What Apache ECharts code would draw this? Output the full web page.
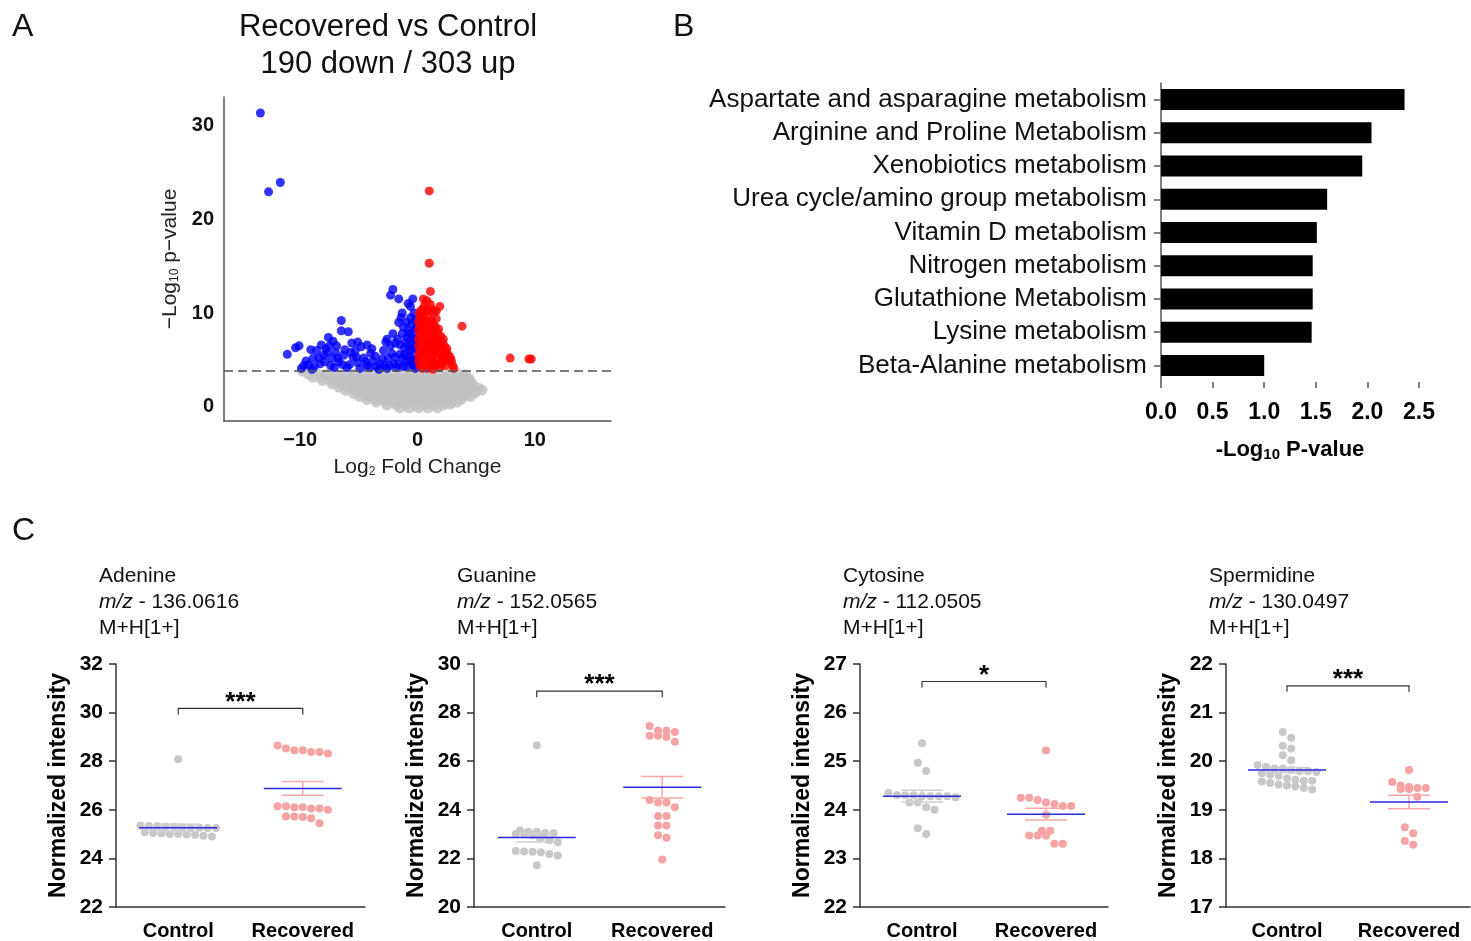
<!DOCTYPE html>
<html>
<head>
<meta charset="utf-8">
<title>Recovered vs Control</title>
<script src="https://cdn.jsdelivr.net/npm/echarts@6/dist/echarts.min.js"></script>
<style>
  html, body { margin: 0; padding: 0; background: #fff; }
  #main { width: 1471px; height: 941px; }
</style>
</head>
<body>
<div id="main"></div>
<script>
// ---- panel A : volcano ----
const volcanoGray = [
  [-9.8, 3.8], [-9.3, 3.5], [-8.5, 3.5], [-7.7, 3.5], [-6.9, 3.5], [-6.1, 3.5], [-5.3, 3.5], [-4.5, 3.5], [-3.7, 3.5],
  [-2.9, 3.5], [-2.1, 3.5], [-1.3, 3.5], [-0.5, 3.5], [0.3, 3.5], [1.1, 3.5], [1.9, 3.5], [2.7, 3.5], [3.5, 3.5], [4.1, 3.4],
  [-8.9, 3.15], [-8.1, 3.15], [-7.3, 3.15], [-6.5, 3.15], [-5.7, 3.15], [-4.9, 3.15], [-4.1, 3.15], [-3.3, 3.15], [-2.5, 3.15],
  [-1.7, 3.15], [-0.9, 3.15], [-0.1, 3.15], [0.7, 3.15], [1.5, 3.15], [2.3, 3.15], [3.1, 3.15], [3.9, 3.15], [4.4, 3.0],
  [-8.1, 2.8], [-7.3, 2.8], [-6.5, 2.8], [-5.7, 2.8], [-4.9, 2.8], [-4.1, 2.8], [-3.3, 2.8], [-2.5, 2.8], [-1.7, 2.8],
  [-0.9, 2.8], [-0.1, 2.8], [0.7, 2.8], [1.5, 2.8], [2.3, 2.8], [3.1, 2.8], [3.9, 2.8], [4.5, 2.7],
  [-7.3, 2.45], [-6.5, 2.45], [-5.7, 2.45], [-4.9, 2.45], [-4.1, 2.45], [-3.3, 2.45], [-2.5, 2.45], [-1.7, 2.45], [-0.9, 2.45],
  [-0.1, 2.45], [0.7, 2.45], [1.5, 2.45], [2.3, 2.45], [3.1, 2.45], [3.9, 2.45], [4.7, 2.4],
  [-6.7, 2.1], [-5.9, 2.1], [-5.1, 2.1], [-4.3, 2.1], [-3.5, 2.1], [-2.7, 2.1], [-1.9, 2.1], [-1.1, 2.1], [-0.3, 2.1],
  [0.5, 2.1], [1.3, 2.1], [2.1, 2.1], [2.9, 2.1], [3.7, 2.1], [4.5, 2.1], [5.2, 2.0], [5.5, 1.8],
  [-6.1, 1.75], [-5.3, 1.75], [-4.5, 1.75], [-3.7, 1.75], [-2.9, 1.75], [-2.1, 1.75], [-1.3, 1.75], [-0.5, 1.75], [0.3, 1.75],
  [1.1, 1.75], [1.9, 1.75], [2.7, 1.75], [3.5, 1.75], [4.3, 1.75], [5.0, 1.7],
  [-5.4, 1.4], [-4.6, 1.4], [-3.8, 1.4], [-3.0, 1.4], [-2.2, 1.4], [-1.4, 1.4], [-0.6, 1.4], [0.2, 1.4], [1.0, 1.4],
  [1.8, 1.4], [2.6, 1.4], [3.4, 1.4], [4.2, 1.4], [4.9, 1.5],
  [-4.9, 1.1], [-4.1, 1.1], [-3.3, 1.1], [-2.5, 1.1], [-1.7, 1.1], [-0.9, 1.1], [-0.1, 1.1], [0.7, 1.1], [1.5, 1.1],
  [2.3, 1.1], [3.1, 1.1], [3.9, 1.1], [4.5, 1.1],
  [-4.3, 0.8], [-3.5, 0.8], [-2.7, 0.8], [-1.9, 0.8], [-1.1, 0.8], [-0.3, 0.8], [0.5, 0.8], [1.3, 0.8], [2.1, 0.8],
  [2.9, 0.8], [3.7, 0.8],
  [-3.5, 0.5], [-2.7, 0.5], [-1.9, 0.5], [-1.1, 0.5], [-0.3, 0.5], [0.5, 0.5], [1.3, 0.5], [2.1, 0.5], [2.9, 0.5], [3.4, 0.5],
  [-2.6, 0.2], [-1.8, 0.2], [-1.0, 0.2], [-0.2, 0.2], [0.6, 0.2], [1.4, 0.2], [2.2, 0.2], [2.8, 0.3],
  [-1.5, -0.1], [-0.7, -0.1], [0.1, -0.1], [0.9, -0.1], [1.7, -0.1]
];
const volcanoDown = [
  [-13.4, 31.3], [-12.7, 22.9], [-11.7, 23.9],
  [-11.1, 5.6], [-10.4, 6.3], [-10.1, 6.5], [-9.9, 4.1], [-9.7, 4.4], [-9.5, 4.9], [-9.3, 4.5], [-9.1, 6.1],
  [-9.0, 4.0], [-8.9, 5.2], [-8.8, 4.3], [-8.6, 6.0], [-8.4, 5.2], [-8.3, 4.6], [-8.2, 6.6], [-8.0, 5.5],
  [-7.9, 4.8], [-7.8, 6.2], [-7.7, 5.8], [-7.6, 7.4], [-7.5, 6.5], [-7.4, 4.4], [-7.3, 5.2], [-7.2, 7.0],
  [-7.1, 4.2], [-7.0, 5.8], [-6.9, 6.5], [-6.8, 5.2], [-6.7, 4.8], [-6.5, 9.2], [-6.5, 8.1], [-6.4, 4.5],
  [-6.3, 5.5], [-6.2, 6.1], [-6.0, 4.2], [-5.9, 8.0], [-5.8, 4.5], [-5.7, 5.8], [-5.6, 6.8], [-5.5, 5.3],
  [-5.3, 6.0], [-5.2, 5.3], [-5.1, 4.7], [-5.1, 6.9], [-4.9, 4.1], [-4.8, 6.4], [-4.6, 5.2], [-4.4, 4.8],
  [-4.3, 4.4], [-4.3, 6.6], [-4.1, 4.2], [-4.0, 5.7], [-3.9, 6.2], [-3.8, 4.9], [-3.6, 5.4], [-3.5, 4.3],
  [-3.3, 4.0], [-3.2, 4.6], [-3.0, 5.1], [-2.9, 6.0], [-2.8, 4.4], [-2.7, 6.9], [-2.6, 4.1], [-2.6, 7.2],
  [-2.5, 5.2], [-2.4, 4.4], [-2.3, 6.5], [-2.2, 5.7], [-2.1, 7.8], [-2.0, 4.6], [-1.9, 5.3], [-1.9, 6.8],
  [-2.1, 12.5], [-2.3, 11.9], [-1.6, 11.5], [-1.6, 9.0], [-1.4, 9.5], [-1.3, 10.0], [-1.7, 7.2], [-1.6, 4.5],
  [-1.5, 5.6], [-1.5, 6.6], [-1.8, 4.2], [-1.3, 5.2], [-1.3, 7.8], [-1.2, 8.5], [-1.2, 4.3], [-1.1, 6.3],
  [-1.1, 5.6], [-1.0, 4.8], [-1.0, 6.9], [-0.9, 7.4], [-0.9, 4.3], [-0.9, 9.0], [-0.8, 11.0], [-0.8, 5.4],
  [-0.8, 6.5], [-0.8, 8.1], [-0.7, 6.0], [-0.7, 7.8], [-0.6, 10.7], [-0.6, 5.0], [-0.6, 9.5], [-0.5, 8.8],
  [-0.5, 4.6], [-0.5, 6.2], [-0.4, 11.5], [-0.4, 6.8], [-0.4, 7.3], [-0.4, 5.0], [-0.3, 10.0], [-0.3, 8.0],
  [-0.3, 4.4], [-0.2, 5.5], [-0.2, 7.2], [-0.2, 9.2], [-0.2, 6.3], [-0.2, 4.1], [-0.1, 8.4], [-0.1, 4.8],
  [-0.1, 6.8]
];
const volcanoUp = [
  [1.0, 23.0], [1.0, 15.3], [1.1, 12.3], [3.8, 8.6], [7.9, 5.2], [9.5, 5.1], [9.7, 5.1],
  [0.5, 11.5], [0.8, 11.3], [0.3, 10.3], [0.6, 10.8], [1.1, 10.9], [1.4, 10.1], [1.9, 10.7], [0.15, 10.0],
  [1.2, 10.4], [0.5, 10.4], [1.6, 10.2], [0.8, 10.2],
  [0.2, 9.5], [0.5, 9.8], [0.9, 9.7], [1.2, 9.2], [1.6, 9.4], [0.4, 9.2], [0.8, 9.1], [0.1, 9.0],
  [0.3, 8.7], [0.7, 8.8], [1.0, 8.5], [1.5, 8.6], [1.3, 8.8], [1.8, 8.3], [0.1, 8.2], [0.4, 8.2], [0.8, 8.1],
  [1.3, 8.0], [1.7, 7.9], [0.2, 7.8], [0.6, 7.9], [1.1, 7.6], [1.4, 7.8], [2.0, 7.5], [0.4, 7.4], [0.8, 7.3],
  [1.3, 7.2], [1.7, 7.2], [2.2, 7.2], [0.1, 7.2], [0.3, 6.9], [0.7, 7.0], [1.0, 6.8], [1.5, 6.9], [2.1, 6.8],
  [1.8, 6.6], [2.3, 6.5], [0.1, 6.5], [0.4, 6.4], [0.8, 6.5], [1.3, 6.4], [1.7, 6.3], [2.1, 6.3], [2.5, 6.2],
  [0.2, 6.0], [0.6, 6.1], [1.1, 5.9], [1.4, 6.0], [2.0, 5.8], [2.4, 5.9], [0.4, 5.7], [0.8, 5.8], [1.7, 5.7],
  [2.6, 5.6], [0.1, 5.5], [1.3, 5.5], [2.4, 5.4], [0.3, 5.2], [0.8, 5.3], [1.2, 5.1], [1.7, 5.2], [2.1, 5.3],
  [2.8, 5.3], [2.2, 5.0], [2.7, 4.9], [2.9, 4.9], [0.1, 4.9], [0.8, 4.9], [1.3, 4.7], [1.7, 4.6], [2.1, 4.6],
  [0.2, 4.4], [0.6, 4.5], [1.0, 4.3], [1.5, 4.4], [1.9, 4.2], [2.4, 4.4], [3.0, 4.4], [3.1, 4.1], [0.4, 4.1],
  [0.8, 4.1], [1.3, 4.0]
];
const pThreshold = 3.9;
const volcanoXTicks = [-10, 0, 10];
const volcanoYTicks = [0, 10, 20, 30];

// ---- panel B : pathways ----
const pathways = [
  'Aspartate and asparagine metabolism',
  'Arginine and Proline Metabolism',
  'Xenobiotics metabolism',
  'Urea cycle/amino group metabolism',
  'Vitamin D metabolism',
  'Nitrogen metabolism',
  'Glutathione Metabolism',
  'Lysine metabolism',
  'Beta-Alanine metabolism'
];
const pathwayLogP = [2.36, 2.04, 1.95, 1.61, 1.51, 1.47, 1.47, 1.46, 1.0];

// ---- panel C : metabolites ----
const groups = ['Control', 'Recovered'];
const compounds = ['Adenine', 'Guanine', 'Cytosine', 'Spermidine'];
const mzValues = ['136.0616', '152.0565', '112.0505', '130.0497'];
const adduct = 'M+H[1+]';
const adenineControl = [28.08, 25.35, 25.33, 25.32, 25.3, 25.3, 25.28, 25.27, 25.26, 25.25, 25.25, 25.08, 25.05, 25.03, 25.0, 25.0, 24.98, 24.96, 24.93, 24.9];
const adenineRecovered = [28.65, 28.52, 28.45, 28.45, 28.38, 28.38, 28.32, 26.15, 26.15, 26.1, 26.1, 26.05, 26.05, 26.0, 25.72, 25.72, 25.7, 25.65, 25.45];
const guanineControl = [26.66, 23.15, 23.1, 23.1, 23.05, 23.05, 23.0, 23.0, 22.95, 22.85, 22.75, 22.66, 22.3, 22.28, 22.27, 22.25, 22.18, 22.12, 21.72];
const guanineRecovered = [27.45, 27.25, 27.25, 27.2, 27.05, 27.05, 27.0, 26.8, 24.4, 24.3, 24.3, 24.1, 23.75, 23.75, 23.35, 23.35, 22.95, 22.85, 21.95];
const cytosineControl = [25.37, 24.97, 24.8, 24.35, 24.3, 24.3, 24.3, 24.28, 24.28, 24.28, 24.28, 24.26, 24.15, 24.15, 24.05, 24.0, 23.62, 23.5];
const cytosineRecovered = [25.22, 24.25, 24.25, 24.2, 24.15, 24.12, 24.08, 24.08, 23.9, 23.57, 23.57, 23.47, 23.47, 23.47, 23.3, 23.3];
const spermidineControl = [20.6, 20.48, 20.32, 20.26, 20.12, 20.02, 19.92, 19.88, 19.85, 19.85, 19.82, 19.8, 19.8, 19.78, 19.75, 19.72, 19.7, 19.65, 19.62, 19.6, 19.6, 19.58, 19.55, 19.52, 19.5, 19.48, 19.45, 19.42];
const spermidineRecovered = [19.82, 19.57, 19.5, 19.47, 19.45, 19.45, 19.43, 19.43, 19.27, 18.64, 18.52, 18.36, 18.28];
const groupMeans = [[25.26, 26.88], [22.86, 24.93], [24.28, 23.91], [19.82, 19.16]];
const groupSem = [[0.15, 0.28], [0.18, 0.44], [0.12, 0.12], [0.05, 0.14]];
const yRanges = [[22, 32, 2], [20, 30, 2], [22, 27, 1], [17, 22, 1]];
const bracketLevels = [30.17, 28.88, 26.64, 21.55];
const stars = ['***', '***', '*', '***'];

const pointsByCompound = [
  [adenineControl, adenineRecovered],
  [guanineControl, guanineRecovered],
  [cytosineControl, cytosineRecovered],
  [spermidineControl, spermidineRecovered]
];

const FONT = 'Liberation Sans, Arial, sans-serif';
const GRAY = '#c8c8c8';
const PINK = '#f6a3a3';
const MEAN_BLUE = '#2a2ae0';

// dot-plot grids (left, width); all share top/height
const dotLefts = [116, 474, 860, 1226];
const dotWidths = [249, 251, 248, 244];
const DOT_TOP = 664, DOT_H = 244, DOT_SIZE = 8;

// Prism-like scatter: group values into rows of one dot height, centre each row
function swarm(values, pxPerUnit, d) {
  const order = values.map((v, i) => i).sort((a, b) => values[a] - values[b]);
  const rows = [];
  let cur = [], start = null;
  order.forEach(i => {
    const y = values[i] * pxPerUnit;
    if (start === null || y - start >= d) {
      if (cur.length) rows.push(cur);
      cur = [i];
      start = y;
    } else {
      cur.push(i);
    }
  });
  if (cur.length) rows.push(cur);
  const offs = new Array(values.length).fill(0);
  rows.forEach(row => {
    row.sort((a, b) => a - b);
    const n = row.length;
    row.forEach((i, j) => { offs[i] = (j - (n - 1) / 2) * d; });
  });
  return offs;
}

const myChart = echarts.init(document.getElementById('main'));

const grid = [
  { left: 224, top: 97, width: 387, height: 324 },
  { left: 1161, top: 83, width: 258, height: 299 }
];
const xAxis = [
  {
    gridIndex: 0, type: 'value', min: -16.5, max: 16.5,
    splitLine: { show: false }, axisTick: { show: false },
    axisLine: { onZero: false, lineStyle: { color: '#555', width: 1.5 } },
    axisLabel: {
      customValues: volcanoXTicks, margin: 9, color: '#111', fontSize: 20, fontWeight: 'bold',
      formatter: v => (v < 0 ? '\u2212' + Math.abs(v) : String(v))
    },
    name: 'Log{s|2} Fold Change', nameLocation: 'middle', nameGap: 35,
    nameTextStyle: { fontSize: 21, color: '#222', rich: { s: { fontSize: 12, verticalAlign: 'bottom', padding: [10, 0, 0, 0] } } }
  },
  {
    gridIndex: 1, type: 'value', min: 0, max: 2.5, interval: 0.5,
    splitLine: { show: false },
    axisTick: { show: true, length: 6, lineStyle: { color: '#555', width: 1.5 } },
    axisLine: { lineStyle: { color: '#555', width: 1.5 } },
    axisLabel: { margin: 19, color: '#000', fontSize: 23, fontWeight: 'bold', formatter: v => v.toFixed(1) },
    name: '-Log{s|10} P-value', nameLocation: 'middle', nameGap: 55,
    nameTextStyle: { fontSize: 22, fontWeight: 'bold', color: '#000',
      rich: { s: { fontSize: 15, fontWeight: 'bold', verticalAlign: 'bottom', padding: [10, 0, 0, 0] } } }
  }
];
const yAxis = [
  {
    gridIndex: 0, type: 'value', min: -1.5, max: 33,
    splitLine: { show: false }, axisTick: { show: false },
    axisLine: { show: true, onZero: false, lineStyle: { color: '#555', width: 1.5 } },
    axisLabel: { customValues: volcanoYTicks, margin: 10, color: '#111', fontSize: 20, fontWeight: 'bold' },
    name: '\u2212Log{s|10} p\u2212value', nameLocation: 'middle', nameGap: 43,
    nameTextStyle: { fontSize: 21, color: '#222', rich: { s: { fontSize: 12, verticalAlign: 'bottom', padding: [10, 0, 0, 0] } } }
  },
  {
    gridIndex: 1, type: 'category', data: pathways, inverse: true,
    axisTick: { show: true, length: 7, alignWithLabel: true, lineStyle: { color: '#555', width: 1.5 } },
    axisLine: { lineStyle: { color: '#555', width: 1.5 } },
    axisLabel: { margin: 14, color: '#111', fontSize: 26, interval: 0 }
  }
];

const series = [
  {
    type: 'scatter', xAxisIndex: 0, yAxisIndex: 0, data: volcanoGray, symbolSize: 11,
    itemStyle: { color: '#c0c0c0' }, silent: true,
    markLine: {
      silent: true, symbol: 'none', label: { show: false },
      lineStyle: { type: [9, 5], color: '#555', width: 1.5 },
      data: [{ yAxis: pThreshold }]
    }
  },
  { type: 'scatter', xAxisIndex: 0, yAxisIndex: 0, data: volcanoDown, symbolSize: 9, itemStyle: { color: '#0000ff' } },
  { type: 'scatter', xAxisIndex: 0, yAxisIndex: 0, data: volcanoUp, symbolSize: 9, itemStyle: { color: '#ff0000' } },
  {
    type: 'bar', xAxisIndex: 1, yAxisIndex: 1, data: pathwayLogP, barWidth: 21,
    itemStyle: { color: '#000' }
  }
];

const graphic = [
  { type: 'text', left: 12, top: 11, style: { text: 'A', fontSize: 32, fill: '#111', fontFamily: FONT } },
  { type: 'text', left: 673, top: 11, style: { text: 'B', fontSize: 32, fill: '#111', fontFamily: FONT } },
  { type: 'text', left: 12, top: 515, style: { text: 'C', fontSize: 32, fill: '#111', fontFamily: FONT } },
  { type: 'text', x: 388, y: 27, style: { text: 'Recovered vs Control', fontSize: 31, fill: '#111', fontFamily: FONT, textAlign: 'center', textVerticalAlign: 'middle' } },
  { type: 'text', x: 388, y: 64, style: { text: '190 down / 303 up', fontSize: 31, fill: '#111', fontFamily: FONT, textAlign: 'center', textVerticalAlign: 'middle' } }
];

compounds.forEach((name, k) => {
  const g = k + 2;
  const [ymin, ymax, step] = yRanges[k];
  const pxPerUnit = DOT_H / (ymax - ymin);
  grid.push({ left: dotLefts[k], top: DOT_TOP, width: dotWidths[k], height: DOT_H });
  xAxis.push({
    gridIndex: g, type: 'category', data: groups,
    axisTick: { show: false },
    axisLine: { lineStyle: { color: '#333', width: 1.5 } },
    axisLabel: { margin: 14, color: '#000', fontSize: 20, fontWeight: 'bold', interval: 0 }
  });
  yAxis.push({
    gridIndex: g, type: 'value', min: ymin, max: ymax, interval: step,
    splitLine: { show: false },
    axisTick: { show: true, length: 7, lineStyle: { color: '#333', width: 1.5 } },
    axisLine: { show: true, lineStyle: { color: '#333', width: 1.5 } },
    axisLabel: { margin: 13, color: '#000', fontSize: 21, fontWeight: 'bold' },
    name: 'Normalized intensity', nameLocation: 'middle', nameGap: 46,
    nameTextStyle: { fontSize: 23, fontWeight: 'bold', color: '#000' }
  });

  pointsByCompound[k].forEach((vals, gi) => {
    const offs = swarm(vals, pxPerUnit, DOT_SIZE + 0.4);
    series.push({
      type: 'scatter', xAxisIndex: g, yAxisIndex: g, symbolSize: DOT_SIZE, z: 2,
      itemStyle: { color: gi === 0 ? GRAY : PINK, opacity: 1 },
      data: vals.map((v, i) => ({ value: [gi, v], symbolOffset: [offs[i], 0] }))
    });
  });

  // mean line + SEM whiskers
  series.push({
    type: 'custom', xAxisIndex: g, yAxisIndex: g, z: 3, silent: true,
    encode: { x: 0, y: 1 },
    data: groups.map((gname, gi) => [gi, groupMeans[k][gi], groupSem[k][gi]]),
    renderItem: (params, api) => {
      const cat = api.value(0), m = api.value(1), s = api.value(2);
      const c = api.coord([cat, m]);
      const hi = api.coord([cat, m + s]);
      const lo = api.coord([cat, m - s]);
      const semStyle = { stroke: cat === 0 ? '#cfcfcf' : '#f6a8a8', lineWidth: 1.5 };
      return {
        type: 'group',
        children: [
          { type: 'line', shape: { x1: c[0], y1: hi[1], x2: c[0], y2: lo[1] }, style: semStyle },
          { type: 'line', shape: { x1: c[0] - 21, y1: hi[1], x2: c[0] + 21, y2: hi[1] }, style: semStyle },
          { type: 'line', shape: { x1: c[0] - 21, y1: lo[1], x2: c[0] + 21, y2: lo[1] }, style: semStyle },
          { type: 'line', shape: { x1: c[0] - 39, y1: c[1], x2: c[0] + 39, y2: c[1] }, style: { stroke: MEAN_BLUE, lineWidth: 1.5 } }
        ]
      };
    }
  });

  // significance bracket
  series.push({
    type: 'custom', xAxisIndex: g, yAxisIndex: g, z: 3, silent: true,
    encode: { x: 0, y: 1 },
    data: [[0, bracketLevels[k]]],
    renderItem: (params, api) => {
      const a = api.coord([0, api.value(1)]);
      const b = api.coord([1, api.value(1)]);
      return {
        type: 'group',
        children: [
          { type: 'polyline', shape: { points: [[a[0], a[1] + 6], [a[0], a[1]], [b[0], b[1]], [b[0], b[1] + 6]] },
            style: { stroke: '#333', lineWidth: 1.2, fill: null } },
          { type: 'text', x: (a[0] + b[0]) / 2, y: a[1] - 6,
            style: { text: stars[k], fontSize: 26, fontWeight: 'bold', fill: '#000', fontFamily: FONT,
              textAlign: 'center', textVerticalAlign: 'middle' } }
        ]
      };
    }
  });

  const tx = dotLefts[k] - 17;
  graphic.push(
    { type: 'text', x: tx, y: 576, style: { text: name, fontSize: 21, fill: '#111', fontFamily: FONT, textVerticalAlign: 'middle' } },
    { type: 'text', x: tx, y: 602, style: { text: '{i|m/z} - ' + mzValues[k], fontSize: 21, fill: '#111', fontFamily: FONT, textVerticalAlign: 'middle',
      rich: { i: { fontStyle: 'italic', fontSize: 21, fontFamily: FONT, fill: '#111' } } } },
    { type: 'text', x: tx, y: 628, style: { text: adduct, fontSize: 21, fill: '#111', fontFamily: FONT, textVerticalAlign: 'middle' } }
  );
});

myChart.setOption({
  animation: false,
  textStyle: { fontFamily: FONT },
  grid: grid,
  xAxis: xAxis,
  yAxis: yAxis,
  series: series,
  graphic: graphic
});

window.addEventListener('resize', function () {
  myChart.resize();
});
</script>
</body>
</html>
